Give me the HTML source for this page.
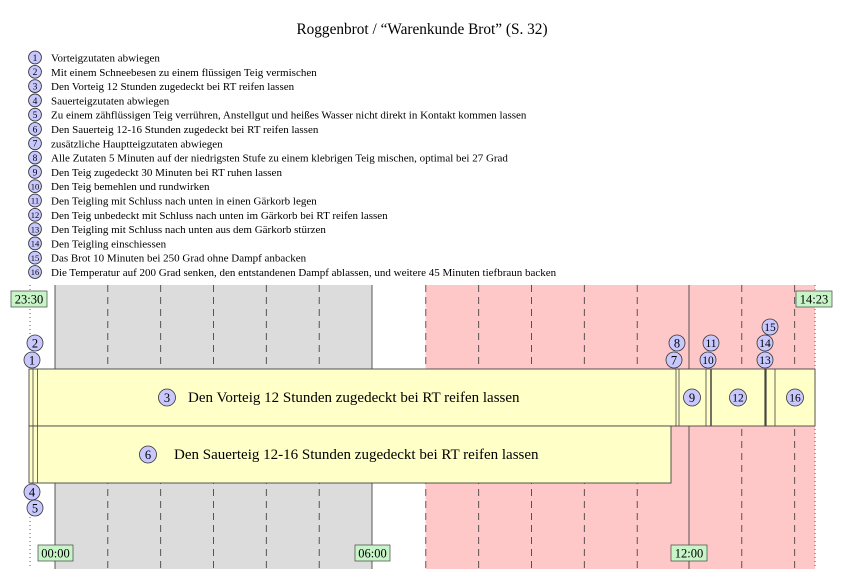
<!DOCTYPE html>
<html><head><meta charset="utf-8"><style>
body{margin:0;background:#fff}
svg{display:block;font-family:"Liberation Serif",serif}
</style></head><body>
<svg width="844" height="569" viewBox="0 0 844 569" xmlns="http://www.w3.org/2000/svg">
<text x="422" y="34" font-size="15.3" text-anchor="middle">Roggenbrot / “Warenkunde Brot” (S. 32)</text>
<g font-size="11">
<g fill="#c8c8ff" stroke="#333" stroke-width="0.9">
<circle cx="35" cy="57.5" r="6.4"/><circle cx="35" cy="71.8" r="6.4"/><circle cx="35" cy="86.1" r="6.4"/><circle cx="35" cy="100.4" r="6.4"/>
<circle cx="35" cy="114.7" r="6.4"/><circle cx="35" cy="129" r="6.4"/><circle cx="35" cy="143.3" r="6.4"/><circle cx="35" cy="157.6" r="6.4"/>
<circle cx="35" cy="171.9" r="6.4"/><circle cx="35" cy="186.2" r="6.4"/><circle cx="35" cy="200.5" r="6.4"/><circle cx="35" cy="214.8" r="6.4"/>
<circle cx="35" cy="229.1" r="6.4"/><circle cx="35" cy="243.4" r="6.4"/><circle cx="35" cy="257.7" r="6.4"/><circle cx="35" cy="272" r="6.4"/>
</g>
<g text-anchor="middle" font-size="9.5">
<text x="35" y="60.9">1</text><text x="35" y="75.2">2</text><text x="35" y="89.5">3</text><text x="35" y="103.8">4</text>
<text x="35" y="118.1">5</text><text x="35" y="132.4">6</text><text x="35" y="146.7">7</text><text x="35" y="161">8</text>
<text x="35" y="175.3">9</text><text x="35" y="189.4" font-size="8.5">10</text><text x="35" y="203.7" font-size="8.5">11</text><text x="35" y="218" font-size="8.5">12</text>
<text x="35" y="232.3" font-size="8.5">13</text><text x="35" y="246.6" font-size="8.5">14</text><text x="35" y="260.9" font-size="8.5">15</text><text x="35" y="275.2" font-size="8.5">16</text>
</g>
<text x="51" y="61.5">Vorteigzutaten abwiegen</text>
<text x="51" y="75.8">Mit einem Schneebesen zu einem flüssigen Teig vermischen</text>
<text x="51" y="90.1">Den Vorteig 12 Stunden zugedeckt bei RT reifen lassen</text>
<text x="51" y="104.4">Sauerteigzutaten abwiegen</text>
<text x="51" y="118.7">Zu einem zähflüssigen Teig verrühren, Anstellgut und heißes Wasser nicht direkt in Kontakt kommen lassen</text>
<text x="51" y="133">Den Sauerteig 12-16 Stunden zugedeckt bei RT reifen lassen</text>
<text x="51" y="147.3">zusätzliche Hauptteigzutaten abwiegen</text>
<text x="51" y="161.6">Alle Zutaten 5 Minuten auf der niedrigsten Stufe zu einem klebrigen Teig mischen, optimal bei 27 Grad</text>
<text x="51" y="175.9">Den Teig zugedeckt 30 Minuten bei RT ruhen lassen</text>
<text x="51" y="190.2">Den Teig bemehlen und rundwirken</text>
<text x="51" y="204.5">Den Teigling mit Schluss nach unten in einen Gärkorb legen</text>
<text x="51" y="218.8">Den Teig unbedeckt mit Schluss nach unten im Gärkorb bei RT reifen lassen</text>
<text x="51" y="233.1">Den Teigling mit Schluss nach unten aus dem Gärkorb stürzen</text>
<text x="51" y="247.4">Den Teigling einschiessen</text>
<text x="51" y="261.7">Das Brot 10 Minuten bei 250 Grad ohne Dampf anbacken</text>
<text x="51" y="276">Die Temperatur auf 200 Grad senken, den entstandenen Dampf ablassen, und weitere 45 Minuten tiefbraun backen</text>
</g>
<rect x="55" y="285" width="317" height="284" fill="#dcdcdc"/>
<rect x="425.5" y="285" width="389.5" height="284" fill="#ffc8c8"/>
<g stroke="#333" stroke-width="0.8">
<line x1="30" y1="285" x2="30" y2="569" stroke-dasharray="1,3"/>
<line x1="815" y1="285" x2="815" y2="569" stroke-dasharray="1,3"/>
<line x1="55" y1="285" x2="55" y2="569"/>
<line x1="372" y1="285" x2="372" y2="569"/>
<line x1="689" y1="285" x2="689" y2="569"/>
<g stroke-dasharray="7,5">
<line x1="107.8" y1="285" x2="107.8" y2="569"/><line x1="160.7" y1="285" x2="160.7" y2="569"/><line x1="213.5" y1="285" x2="213.5" y2="569"/>
<line x1="266.3" y1="285" x2="266.3" y2="569"/><line x1="319.2" y1="285" x2="319.2" y2="569"/>
<line x1="425.8" y1="285" x2="425.8" y2="569"/><line x1="478.7" y1="285" x2="478.7" y2="569"/><line x1="531.5" y1="285" x2="531.5" y2="569"/>
<line x1="584.3" y1="285" x2="584.3" y2="569"/><line x1="637.2" y1="285" x2="637.2" y2="569"/>
<line x1="741.8" y1="285" x2="741.8" y2="569"/><line x1="794.7" y1="285" x2="794.7" y2="569"/>
</g>
</g>
<g stroke="#444" stroke-width="0.9" fill="#ffffc8">
<rect x="29" y="369" width="786" height="57"/>
<rect x="29" y="426" width="642" height="57"/>
</g>
<g stroke="#444" stroke-width="0.8">
<line x1="33" y1="369" x2="33" y2="483"/><line x1="37.5" y1="369" x2="37.5" y2="483"/>
<line x1="676" y1="369" x2="676" y2="426"/><line x1="679" y1="369" x2="679" y2="426"/>
<line x1="706" y1="369" x2="706" y2="426"/><line x1="711" y1="369" x2="711" y2="426" stroke-width="1.5"/>
<line x1="765.5" y1="369" x2="765.5" y2="426" stroke-width="2.2"/><line x1="775" y1="369" x2="775" y2="426"/>
</g>
<g fill="#c8c8ff" stroke="#333" stroke-width="0.8">
<circle cx="32" cy="360" r="8"/><circle cx="35" cy="343" r="8"/><circle cx="32" cy="492" r="8"/><circle cx="35" cy="508" r="8"/>
<circle cx="674" cy="360" r="8"/><circle cx="677" cy="343" r="8"/><circle cx="708" cy="360" r="8"/><circle cx="711" cy="343" r="8"/>
<circle cx="765" cy="360" r="8"/><circle cx="765" cy="343" r="8"/><circle cx="770" cy="327" r="8"/>
<circle cx="167" cy="397.5" r="8.5"/><circle cx="148" cy="454.5" r="8.5"/><circle cx="692" cy="397.5" r="8.5"/><circle cx="738" cy="397.5" r="8.5"/><circle cx="795" cy="397.5" r="8.5"/>
</g>
<g text-anchor="middle" font-size="12.5">
<text x="32" y="364.5">1</text><text x="35" y="347.5">2</text><text x="32" y="496.5">4</text><text x="35" y="512.5">5</text>
<text x="674" y="364.5">7</text><text x="677" y="347.5">8</text><text x="708" y="364" font-size="11.5">10</text><text x="711" y="347" font-size="11.5">11</text>
<text x="765" y="364" font-size="11.5">13</text><text x="765" y="347" font-size="11.5">14</text><text x="770" y="331" font-size="11.5">15</text>
<text x="167" y="402">3</text><text x="148" y="459">6</text><text x="692" y="402">9</text><text x="738" y="401.5" font-size="11.5">12</text><text x="795" y="401.5" font-size="11.5">16</text>
</g>
<g font-size="15">
<text x="188" y="402">Den Vorteig 12 Stunden zugedeckt bei RT reifen lassen</text>
<text x="174" y="459">Den Sauerteig 12-16 Stunden zugedeckt bei RT reifen lassen</text>
</g>
<g fill="#c8f5c8" stroke="#444" stroke-width="0.7">
<rect x="11" y="291" width="36" height="16"/><rect x="796" y="291" width="36" height="16"/>
<rect x="38" y="545" width="35" height="16"/><rect x="355" y="545" width="35" height="16"/><rect x="671" y="545" width="36" height="16"/>
</g>
<g font-size="12.5" text-anchor="middle">
<text x="29" y="303.5">23:30</text><text x="814" y="303.5">14:23</text>
<text x="55.5" y="557.5">00:00</text><text x="372.5" y="557.5">06:00</text><text x="689" y="557.5">12:00</text>
</g>
</svg>
</body></html>
